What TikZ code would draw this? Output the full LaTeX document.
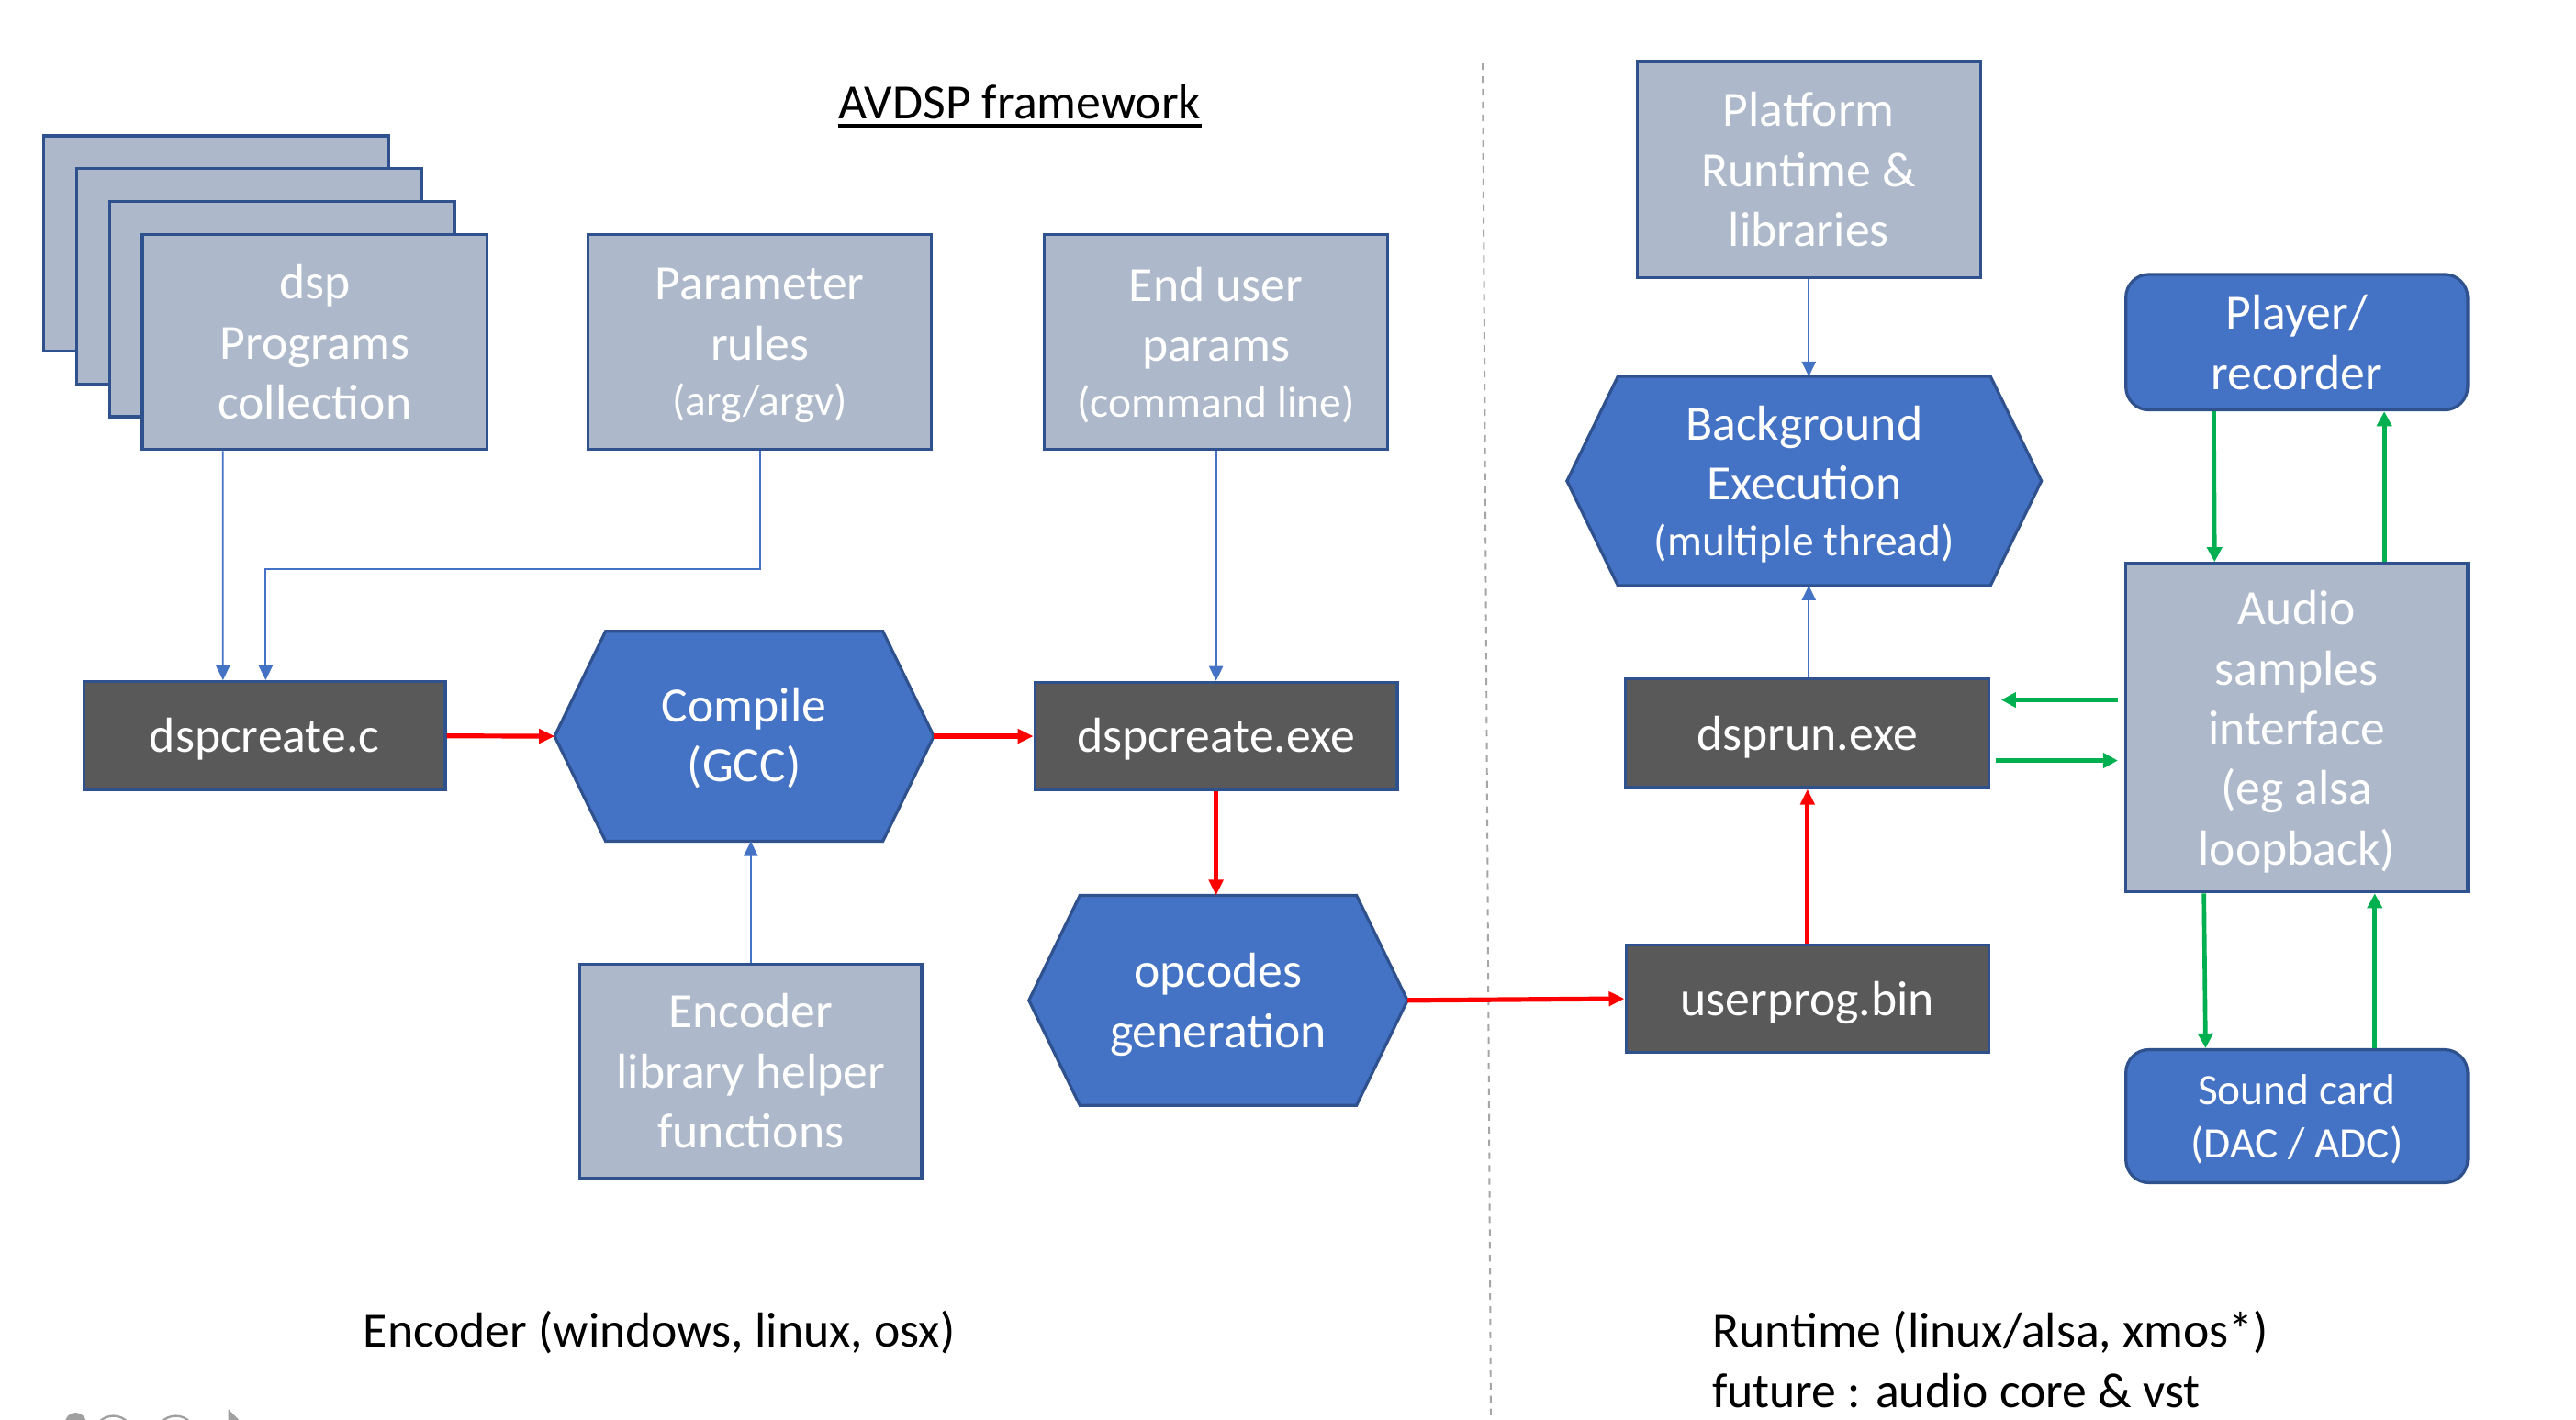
\documentclass[tikz,border=0pt]{standalone}
\usepackage{fontspec}
\setmainfont{Carlito}
\usetikzlibrary{arrows.meta,calc,backgrounds}
\definecolor{bdr}{HTML}{2F528F}
\definecolor{grayfill}{HTML}{ADB9CA}
\definecolor{darkfill}{HTML}{595959}
\definecolor{bluefill}{HTML}{4472C4}
\definecolor{arrblue}{HTML}{4472C4}
\definecolor{redc}{HTML}{FF0000}
\definecolor{grn}{HTML}{00B050}
\definecolor{sepgray}{HTML}{A6A6A6}
\definecolor{icongray}{HTML}{A0A0A0}
\newcommand{\smallline}[1]{{\fontsize{26.5}{32}\selectfont #1}}
\tikzset{
  box/.style={draw=bdr, line width=1.8pt, text=white, align=center, inner sep=0pt,
    font=\fontsize{30}{36.5}\selectfont},
  graybox/.style={box, fill=grayfill},
  darkbox/.style={box, fill=darkfill, text depth=1pt},
  roundbox/.style={box, fill=bluefill, rounded corners=14pt},
  hexbox/.style={box, draw=none},
  hexshape/.style={draw=bdr, line width=1.8pt, fill=bluefill, line join=miter},
  bluearr/.style={draw=arrblue, line width=1pt, -{Triangle[length=9pt,width=8.5pt]}},
  redarr/.style={draw=redc, line width=2.9pt, -{Triangle[length=9.5pt,width=8.5pt]}},
  greenarr/.style={draw=grn, line width=2.6pt, -{Triangle[length=9pt,width=9pt]}},
  txt/.style={inner sep=0pt, text=black, font=\fontsize{30}{37}\selectfont},
  sepline/.style={draw=sepgray, line width=1.1pt, dash pattern=on 4pt off 3.8pt},
}
\begin{document}
\begin{tikzpicture}[x=1pt,y=-1pt]
\useasboundingbox (0,0) rectangle (1568,864);
\begin{scope}[on background layer]
\fill[white] (0,0) rectangle (1568,864);
\end{scope}

% separator
\draw[sepline] (902.5,38.6) -- (907.5,864);

% slide controls (cut off at the bottom edge)
\begin{scope}
\clip (0,0) rectangle (1568,864);
\fill[icongray] (46,866.5) circle (6.5);
\draw[icongray, line width=1.3pt] (69,874) circle (12);
\draw[icongray, line width=1.3pt] (107,874) circle (12);
\fill[icongray] (139,858) -- (147,866) -- (139,866) -- cycle;
\end{scope}

% title
\node[txt, anchor=base] (title) at (620.7,72.3) {AVDSP framework};
\draw[line width=2.2pt] ($(title.base west)+(0,4.4)$) -- ($(title.base east)+(0,4.4)$);

% stack of dsp programs
\node[graybox, minimum width=210pt, minimum height=131pt] (dspA) at (131.6,148.2) {};
\node[graybox, minimum width=210pt, minimum height=131pt] (dspB) at (151.6,168.2) {};
\node[graybox, minimum width=210pt, minimum height=131pt] (dspC) at (171.6,188.2) {};
\node[graybox, minimum width=210pt, minimum height=131pt] (dsp) at (191.6,208.2) {dsp\\Programs\\collection};

\node[graybox, minimum width=209pt, minimum height=131pt, text depth=-5.5pt] (param) at (462.5,208.2) {Parameter\\rules\\[-2.5pt]\smallline{(arg/argv)}};
\node[graybox, minimum width=209pt, minimum height=131pt, text depth=-1pt] (enduser) at (740.2,208.2) {End user\\params\\[-2.5pt]\smallline{(command line)}};

\node[darkbox, minimum width=220pt, minimum height=66pt] (dspc) at (161,448) {dspcreate.c};
\node[hexbox, minimum width=229pt, minimum height=126pt, text depth=2pt] (compile) at (453,448.2) {Compile\\(GCC)};
\node[darkbox, minimum width=220.6pt, minimum height=65.6pt] (dspexe) at (740.2,448.2) {dspcreate.exe};
\node[hexbox, minimum width=228.6pt, minimum height=126pt, text depth=0pt] (opcodes) at (741.5,609) {opcodes\\generation};
\node[graybox, minimum width=208pt, minimum height=130pt] (encl) at (457,652) {Encoder\\library helper\\functions};

\node[graybox, minimum width=209pt, minimum height=131.7pt] (platform) at (1101,103.3) {Platform\\Runtime \&\\libraries};
\node[hexbox, minimum width=287pt, minimum height=125.5pt, text depth=-1pt] (bgexec) at (1098.2,292.8) {Background\\Execution\\[-2.5pt]\smallline{(multiple thread)}};
\node[darkbox, minimum width=221pt, minimum height=66.4pt, text depth=0pt] (dsprun) at (1100,446.3) {dsprun.exe};
\node[darkbox, minimum width=221pt, minimum height=65.6pt, text depth=0pt] (userprog) at (1100.2,608) {userprog.bin};

\node[roundbox, minimum width=208pt, minimum height=82.5pt, text depth=-4pt] (player) at (1398,208.3) {Player/\\recorder};
\node[graybox, minimum width=208pt, minimum height=200pt, text depth=0pt] (audio) at (1398,443) {Audio\\samples\\interface\\(eg alsa\\loopback)};
\node[roundbox, minimum width=208pt, minimum height=81pt, text depth=0pt, font=\fontsize{26.5}{32}\selectfont] (sound) at (1398,679.5) {Sound card\\(DAC / ADC)};

% hexagon outlines behind their texts
\begin{scope}[on background layer]
\foreach \n in {compile,opcodes,bgexec} {
  \draw[hexshape] (\n.west) -- ($(\n.north west)+(31,0)$) -- ($(\n.north east)+(-31,0)$)
    -- (\n.east) -- ($(\n.south east)+(-31,0)$) -- ($(\n.south west)+(31,0)$) -- cycle;
}
\end{scope}

% bottom captions
\node[txt, anchor=base west] (enccap) at (221,820) {Encoder (windows, linux, osx)};
\node[txt, anchor=base west] (rtcap) at (1042,820) {Runtime (linux/alsa, xmos*)};
\node[txt, anchor=base west] (futcap) at (1042,857) {future : audio core \& vst};

% blue connectors
\draw[bluearr] ($(dsp.south)+(-55.9,0)$) -- ($(dspc.north)+(-25.3,0)$);
\draw[bluearr] (param.south) -- ++(0,71.7) -| ($(dspc.north)+(0.7,0)$);
\draw[bluearr] (enduser.south) -- (enduser.south |- dspexe.north);
\draw[bluearr] (encl.north) -- (encl.north |- compile.south);
\draw[bluearr] (platform.south) -- (platform.south |- bgexec.north);
\draw[bluearr] (dsprun.north -| platform.south) -- (platform.south |- bgexec.south);

% red connectors
\draw[redarr] (dspc.east) -- (compile.west);
\draw[redarr] (compile.east) -- (dspexe.west);
\draw[redarr] (dspexe.south) -- (dspexe.south |- opcodes.north);
\draw[redarr] (opcodes.east) -- (userprog.west);
\draw[redarr] (userprog.north) -- (userprog.north |- dsprun.south);

% green connectors
\draw[greenarr] ($(player.south)+(-50.5,0)$) -- ($(audio.north)+(-50,0)$);
\draw[greenarr] ($(audio.north)+(53.3,0)$) -- ($(player.south)+(53.3,0)$);
\draw[greenarr] ($(audio.west)+(-4,-16.9)$) -- ($(dsprun.east)+(6.7,-20.2)$);
\draw[greenarr] ($(dsprun.east)+(3.5,16.7)$) -- ($(audio.west)+(-4,20)$);
\draw[greenarr] ($(audio.south)+(-56.5,0)$) -- ($(sound.north)+(-55.5,0)$);
\draw[greenarr] ($(sound.north)+(47.5,0)$) -- ($(audio.south)+(47.5,0)$);
\end{tikzpicture}
\end{document}
